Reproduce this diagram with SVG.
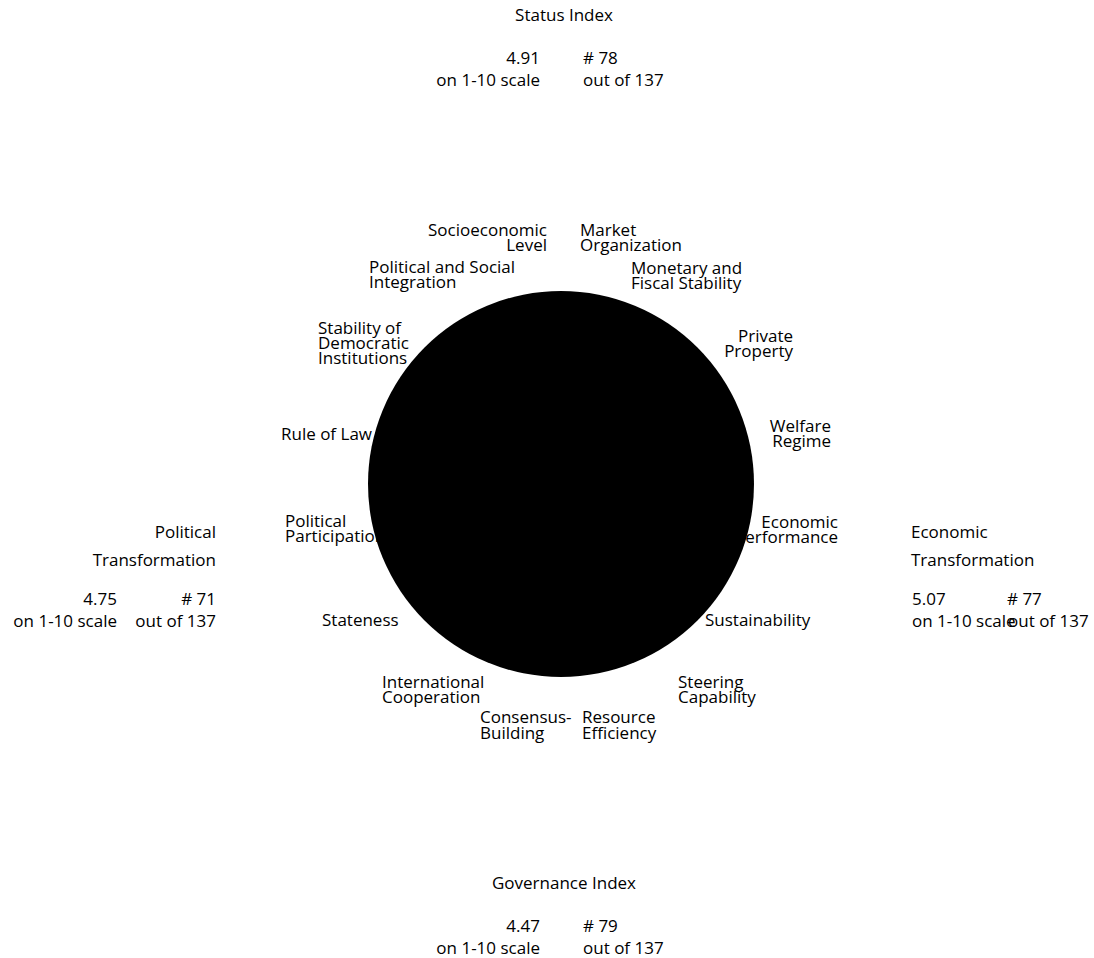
<svg xmlns="http://www.w3.org/2000/svg" width="1094" height="958" viewBox="0 0 1094 958">
<style>
text{font-family:"Segoe UI","Open Sans","Noto Sans",sans-serif;fill:#000}
.l{font-size:17px}
.i{font-size:17px}
.e{text-anchor:end}
.m{text-anchor:middle}
</style>
<rect width="1094" height="958" fill="#fff"/>
<g id="status-index">
<text x="564" y="21" class="i m">Status Index</text>
<text x="540" y="64" class="i e">4.91</text>
<text x="540" y="86" class="i e">on 1-10 scale</text>
<text x="583" y="64" class="i">#  78</text>
<text x="583" y="86" class="i">out of 137</text>
</g>
<g id="governance-index">
<text x="564" y="889" class="i m">Governance Index</text>
<text x="540" y="932" class="i e">4.47</text>
<text x="540" y="954" class="i e">on 1-10 scale</text>
<text x="583" y="932" class="i">#  79</text>
<text x="583" y="954" class="i">out of 137</text>
</g>
<g id="political-transformation">
<text x="216" y="538" class="i e">Political</text>
<text x="216" y="566" class="i e">Transformation</text>
<text x="117" y="605" class="i e">4.75</text>
<text x="117" y="627" class="i e">on 1-10 scale</text>
<text x="216" y="605" class="i e">#  71</text>
<text x="216" y="627" class="i e">out of 137</text>
</g>
<g id="economic-transformation">
<text x="911" y="538" class="i">Economic</text>
<text x="911" y="566" class="i">Transformation</text>
<text x="912" y="605" class="i">5.07</text>
<text x="912" y="627" class="i">on 1-10 scale</text>
<text x="1007" y="605" class="i">#  77</text>
<text x="1008" y="627" class="i">out of 137</text>
</g>
<g id="labels">
<g id="socioeconomic-level"><text x="547" y="236" class="l e">Socioeconomic</text><text x="547" y="251" class="l e">Level</text></g>
<g id="market-organization"><text x="580" y="236" class="l">Market</text><text x="580" y="251" class="l">Organization</text></g>
<g id="political-social-integration"><text x="369" y="273" class="l">Political and Social</text><text x="369" y="288" class="l">Integration</text></g>
<g id="monetary-fiscal"><text x="631" y="274" class="l">Monetary and</text><text x="631" y="289" class="l">Fiscal Stability</text></g>
<g id="stability-democratic"><text x="318" y="334" class="l">Stability of</text><text x="318" y="349" class="l">Democratic</text><text x="318" y="364" class="l">Institutions</text></g>
<g id="private-property"><text x="793" y="342" class="l e">Private</text><text x="793" y="357" class="l e">Property</text></g>
<g id="rule-of-law"><text x="372" y="440" class="l e">Rule of Law</text></g>
<g id="welfare-regime"><text x="831" y="432" class="l e">Welfare</text><text x="831" y="447" class="l e">Regime</text></g>
<g id="political-participation"><text x="285" y="527" class="l">Political</text><text x="285" y="542" class="l">Participation</text></g>
<g id="economic-performance"><text x="838" y="528" class="l e">Economic</text><text x="838" y="543" class="l e">Performance</text></g>
<g id="stateness"><text x="322" y="626" class="l">Stateness</text></g>
<g id="sustainability"><text x="705" y="626" class="l">Sustainability</text></g>
<g id="international-cooperation"><text x="382" y="688" class="l">International</text><text x="382" y="703" class="l">Cooperation</text></g>
<g id="steering-capability"><text x="678" y="688" class="l">Steering</text><text x="678" y="703" class="l">Capability</text></g>
<g id="consensus-building"><text x="480" y="723" class="l">Consensus-</text><text x="480" y="739" class="l">Building</text></g>
<g id="resource-efficiency"><text x="582" y="723" class="l">Resource</text><text x="582" y="739" class="l">Efficiency</text></g>
</g>
<g id="connectors"></g>
<g id="circle"><circle cx="561" cy="484" r="193" fill="#000"/></g>
</svg>
